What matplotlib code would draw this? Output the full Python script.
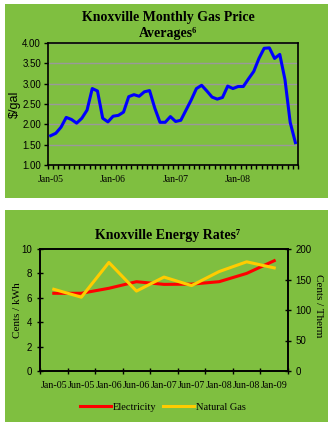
import matplotlib
matplotlib.use("Agg")
import matplotlib.pyplot as plt
from matplotlib.patches import Rectangle

# Monthly average gas price, Jan 2005 - Dec 2008 ($/gal)
gas_price = [
    1.72, 1.78, 1.93, 2.17, 2.12, 2.03, 2.15, 2.35, 2.88, 2.82, 2.15, 2.06,
    2.20, 2.22, 2.30, 2.68, 2.73, 2.69, 2.80, 2.83, 2.40, 2.05, 2.05, 2.19,
    2.07, 2.10, 2.35, 2.60, 2.88, 2.96, 2.82, 2.67, 2.62, 2.66, 2.94, 2.88,
    2.93, 2.93, 3.12, 3.30, 3.62, 3.87, 3.88, 3.62, 3.72, 3.10, 2.05, 1.55,
]
gas_year_labels = ["Jan-05", "Jan-06", "Jan-07", "Jan-08"]

# Energy rates, semiannual
rate_periods = ["Jan-05", "Jun-05", "Jan-06", "Jun-06", "Jan-07",
                "Jun-07", "Jan-08", "Jun-08", "Jan-09"]
electricity = [6.37, 6.37, 6.78, 7.32, 7.10, 7.12, 7.32, 8.00, 9.04]   # cents/kWh
natural_gas = [134, 121, 178, 131, 154, 140, 163, 179, 169]            # cents/therm

W, H = 333, 422
GREEN = "#7fbf40"
SERIF = ["Liberation Serif", "DejaVu Serif"]
SANS = ["Liberation Sans", "DejaVu Sans"]


def px_rect(x0, y0, x1, y1):
    return [x0 / W, 1 - y1 / H, (x1 - x0) / W, (y1 - y0) / H]


def fy(y):
    return 1 - y / H


fig = plt.figure(figsize=(W / 100, H / 100), dpi=100, facecolor="white")
for (x0, y0, x1, y1) in [(5, 4, 328, 198), (5, 210, 328, 422)]:
    r = px_rect(x0, y0, x1, y1)
    fig.patches.append(Rectangle((r[0], r[1]), r[2], r[3], transform=fig.transFigure,
                                 facecolor=GREEN, edgecolor="none", zorder=-5))

# --- Monthly gas price ---
ax = fig.add_axes(px_rect(48, 43, 298, 165))
ax.set_facecolor(GREEN)
n = len(gas_price)
ax.plot(range(n), gas_price, color="#0000ff", lw=2.2, solid_joinstyle="round", zorder=3)
ax.set_xlim(-0.5, n - 0.5)
ax.set_ylim(1.0, 4.0)
ax.set_yticks([1.0 + 0.5 * k for k in range(7)])
ax.set_yticklabels([f"{1.0 + 0.5 * k:.2f}" for k in range(7)], fontsize=7, family=SANS)
ax.yaxis.grid(True, color="#999999", lw=1.0)
ax.set_axisbelow(True)
ax.set_xticks([12 * k for k in range(len(gas_year_labels))])
ax.set_xticklabels(gas_year_labels, fontsize=7, family=SERIF)
ax.set_xticks([k - 0.5 for k in range(n + 1)], minor=True)
ax.tick_params(axis="x", which="major", length=0, pad=7)
ax.tick_params(axis="x", which="minor", length=3, width=1, direction="out")
ax.tick_params(axis="y", length=3, width=1, direction="out", pad=2)
ax.set_ylabel("$/gal", fontsize=9, family=SANS, labelpad=1)
for s in ax.spines.values():
    s.set_linewidth(1.2)
fig.text(168 / W, fy(17), "Knoxville Monthly Gas Price", ha="center", va="center",
         fontsize=10, fontweight="bold", family=SERIF)
fig.text(168 / W, fy(33), "Averages\u2076", ha="center", va="center",
         fontsize=10, fontweight="bold", family=SERIF)

# --- Energy rates ---
ax1 = fig.add_axes(px_rect(40, 249, 288, 371))
ax1.set_facecolor(GREEN)
m = len(rate_periods)
ax1.plot(range(m), electricity, color="#ff0000", lw=2.2, label="Electricity", zorder=3)
ax1.set_xlim(-0.5, m - 0.5)
ax1.set_ylim(0, 10)
ax1.set_yticks(range(0, 11, 2))
ax1.set_yticklabels([str(v) for v in range(0, 11, 2)], fontsize=7, family=SANS)
ax1.set_xticks(range(m))
ax1.set_xticklabels(rate_periods, fontsize=7.2, family=SERIF)
ax1.set_xticks([k - 0.5 for k in range(m + 1)], minor=True)
ax1.tick_params(axis="x", which="major", length=0, pad=7)
ax1.tick_params(axis="x", which="minor", length=5, width=1, direction="inout")
ax1.tick_params(axis="y", length=5, width=1, direction="inout", pad=3)
for s in ax1.spines.values():
    s.set_linewidth(1.2)

ax2 = ax1.twinx()
ax2.plot(range(m), natural_gas, color="#ffcc00", lw=2.2, label="Natural Gas", zorder=3)
ax2.set_ylim(0, 200)
ax2.set_yticks(range(0, 201, 50))
ax2.set_yticklabels([str(v) for v in range(0, 201, 50)], fontsize=7, family=SANS)
ax2.tick_params(axis="y", length=5, width=1, direction="inout", pad=3)
for s in ax2.spines.values():
    s.set_linewidth(1.2)

fig.text(17 / W, fy(310), "Cents / kWh", rotation=90, ha="center", va="center",
         fontsize=8, family=SERIF)
fig.text(318 / W, fy(306), "Cents / Therm", rotation=-90, ha="center", va="center",
         fontsize=8, family=SERIF)
fig.text(168 / W, fy(236), "Knoxville Energy Rates\u2077", ha="center", va="center",
         fontsize=10, fontweight="bold", family=SERIF)

handles = ax1.get_lines() + ax2.get_lines()
fig.legend(handles, [h.get_label() for h in handles], loc="center",
           bbox_to_anchor=(163 / W, fy(407)), ncol=2, frameon=False,
           prop={"family": SERIF, "size": 7.5}, handlelength=3.0, handletextpad=0.2,
           columnspacing=0.6)

fig.savefig("out.png", dpi=100, facecolor="white")
